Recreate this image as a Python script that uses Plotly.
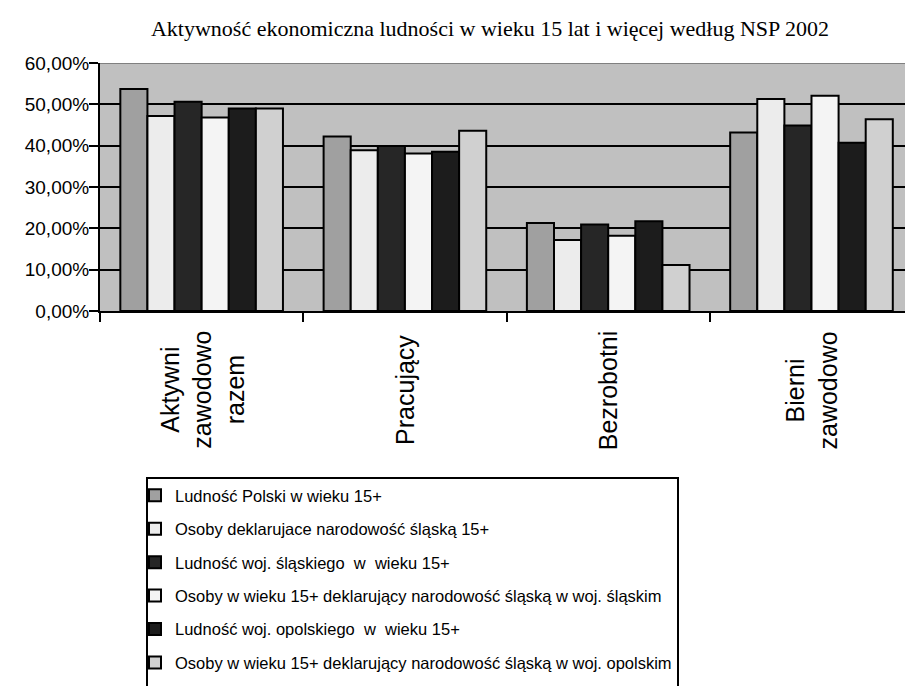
import plotly.graph_objects as go

categories = ["Aktywni<br>zawodowo<br>razem", "Pracujący", "Bezrobotni", "Bierni<br>zawodowo"]
series_names = [
    "Ludność Polski w wieku 15+",
    "Osoby deklarujace narodowość śląską 15+",
    "Ludność woj. śląskiego  w  wieku 15+",
    "Osoby w wieku 15+ deklarujący narodowość śląską w woj. śląskim",
    "Ludność woj. opolskiego  w  wieku 15+",
    "Osoby w wieku 15+ deklarujący narodowość śląską w woj. opolskim",
]
s1 = [53.7, 42.2, 21.3, 43.2]
s2 = [47.2, 38.9, 17.2, 51.3]
s3 = [50.6, 39.9, 20.9, 44.9]
s4 = [46.8, 38.1, 18.2, 52.1]
s5 = [49.0, 38.5, 21.7, 40.7]
s6 = [49.0, 43.6, 11.1, 46.4]
series_values = [s1, s2, s3, s4, s5, s6]
colors = ["#a0a0a0", "#ececec", "#262626", "#f4f4f4", "#1c1c1c", "#d0d0d0"]
y_ticks = [0, 10, 20, 30, 40, 50, 60]
y_tick_labels = ["0,00%", "10,00%", "20,00%", "30,00%", "40,00%", "50,00%", "60,00%"]
title_text = "Aktywność ekonomiczna ludności w wieku 15 lat i więcej według NSP 2002"

SANS = "Liberation Sans, Arial, sans-serif"
SERIF = "Liberation Serif, Times New Roman, serif"

W, H = 905, 686
PL, PT, PB = 100, 63, 311          # plot area left / top / bottom in px
PW, PH = W - PL, PB - PT

def px_x(px):
    return (px - PL) / PW

def px_y(py):
    return (PB - py) / PH

cat_idx = list(range(len(categories)))

fig = go.Figure()
for i, (name, vals, col) in enumerate(zip(series_names, series_values, colors)):
    fig.add_trace(go.Bar(
        x=cat_idx, y=vals, name=name, legendgroup=f"g{i}",
        marker=dict(color=col, line=dict(color="black", width=2)),
    ))

for i, cat in enumerate(categories):
    fig.add_annotation(
        x=i, xref="x", y=px_y(390), yref="paper", text=cat, showarrow=False,
        textangle=-90, xanchor="center", yanchor="middle", align="center",
        font=dict(family=SANS, size=25, color="black"),
    )

# grey top border of plot area
fig.add_shape(type="line", xref="paper", yref="y", x0=0, x1=1, y0=60, y1=60,
              line=dict(color="#808080", width=2))
# legend frame
fig.add_shape(type="rect", xref="paper", yref="paper",
              x0=px_x(147), x1=px_x(678), y0=px_y(478), y1=px_y(720),
              line=dict(color="black", width=2), fillcolor="white", layer="above")

fig.update_layout(
    width=W, height=H,
    margin=dict(l=PL, r=0, t=PT, b=H - PB, autoexpand=False),
    paper_bgcolor="white", plot_bgcolor="#c0c0c0",
    barmode="group", bargap=0.2, bargroupgap=0,
    title=dict(text=title_text, x=490 / W, xref="container", xanchor="center",
               y=1 - 28 / H, yref="container", yanchor="middle",
               font=dict(family=SERIF, size=22, color="black")),
    font=dict(family=SANS, color="black"),
    showlegend=True,
    legend=dict(
        x=135 / W, y=1 - 478 / H, xanchor="left", yanchor="top",
        xref="container", yref="container",
        borderwidth=0, bgcolor="rgba(0,0,0,0)",
        font=dict(family=SANS, size=16.5, color="black"),
        traceorder="grouped", tracegroupgap=9, itemwidth=30,
        maxheight=1000,
    ),
)
fig.update_xaxes(
    type="linear", range=[-0.5, 3.46], showticklabels=False,
    tickvals=[-0.5, 0.5, 1.5, 2.5], ticks="outside", ticklen=9, tickwidth=2, tickcolor="black",
    showline=True, linecolor="black", linewidth=2, showgrid=False, zeroline=False,
)
fig.update_yaxes(
    range=[0, 60], tickvals=y_ticks, ticktext=y_tick_labels,
    ticks="outside", ticklen=9, tickwidth=2, tickcolor="black", ticklabelstandoff=-4,
    showline=True, linecolor="black", linewidth=2,
    showgrid=True, gridcolor="black", gridwidth=2, zeroline=False,
    tickfont=dict(family=SANS, size=19, color="black"),
)

fig.write_html("out.html", config={"displayModeBar": False},
               post_script="document.body.style.margin='0px';")
